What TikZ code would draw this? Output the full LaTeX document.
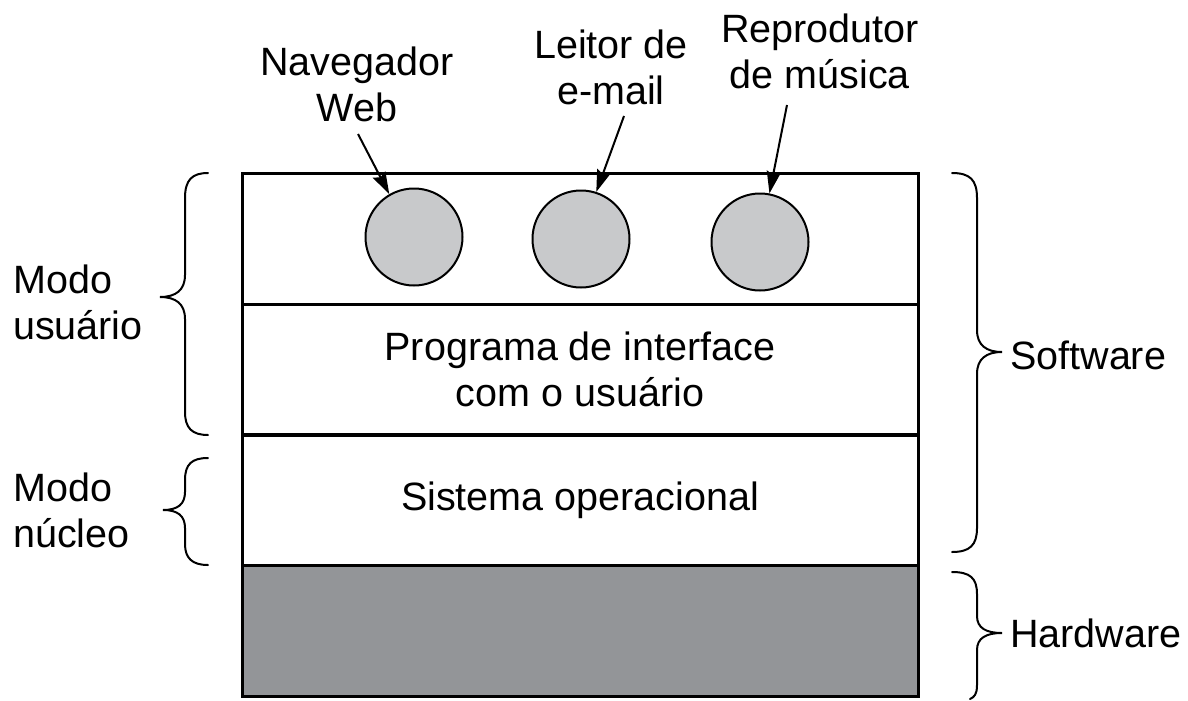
\documentclass[tikz,border=0pt]{standalone}
\usepackage{fontspec}
\setmainfont{Liberation Sans}
\usetikzlibrary{arrows.meta}
\definecolor{appgray}{HTML}{C8C9CB}
\definecolor{hwgray}{HTML}{939598}
\begin{document}
\begin{tikzpicture}[x=1pt,y=-1pt,
  lbl/.style={inner sep=0pt,align=center,font=\fontsize{39.5}{46}\selectfont},
  lbll/.style={inner sep=0pt,align=left,font=\fontsize{39.5}{46}\selectfont},
  layer/.style={draw,line width=3pt,minimum width=676pt,minimum height=131pt,inner sep=0pt,outer sep=0pt,align=center,font=\fontsize{39.5}{46}\selectfont},
  app/.style={circle,draw,line width=2pt,fill=appgray,minimum size=97pt,inner sep=0pt},
  ptr/.style={line width=2pt,-{Stealth[length=22pt,width=14pt,inset=3pt]}},
  brace/.style={line width=2pt,line cap=round}
]
\useasboundingbox (0,0) rectangle (1188,701);
% layers
\node[layer] (top) at (580,238.5) {};
\node[layer] (ui) at (580,369.5) {Programa de interface\\com o usuário};
\node[layer] (os) at (580,500) {Sistema operacional};
\node[layer,fill=hwgray] (hw) at (580,631) {};
% applications
\node[app] (c1) at (414,237) {};
\node[app] (c2) at (581,239) {};
\node[app] (c3) at (760,242) {};
% labels
\node[lbl] (l1) at (357,84) {Navegador\\Web};
\node[lbl] (l2) at (611,67) {Leitor de\\e-mail};
\node[lbl] (l3) at (820,51) {Reprodutor\\de música};
\coordinate (s1) at (358,134);
\coordinate (s2) at (624,116);
\coordinate (s3) at (787,105);
\draw[ptr] (s1) -- (c1.120);
\draw[ptr] (s2) -- (c2.72);
\draw[ptr] (s3) -- (c3.79);
% side labels
\node[lbll,anchor=west] (mu) at (13,302) {Modo\\usuário};
\node[lbll,anchor=west] (mn) at (13,510) {Modo\\núcleo};
\node[lbll,anchor=west] (sw) at (1010,355) {Software};
\node[lbll,anchor=west] (hwl) at (1010,633) {Hardware};
% left braces
\draw[brace] (208,173) .. controls (192,173) and (185,180) .. (185,198)
  -- (185,275) .. controls (185,290) and (176,297) .. (160,297)
  .. controls (176,297) and (185,304) .. (185,319)
  -- (185,412) .. controls (185,428) and (192,435) .. (208,435);
\draw[brace] (208,458) .. controls (192,458) and (185,464) .. (185,480)
  -- (185,492) .. controls (185,504) and (178,510) .. (163,510)
  .. controls (178,510) and (185,516) .. (185,528)
  -- (185,544) .. controls (185,558) and (192,565) .. (208,565);
% right braces
\draw[brace] (952,173) .. controls (970,173) and (977,180) .. (977,198)
  -- (977,330) .. controls (977,345) and (986,352) .. (1002,352)
  .. controls (986,352) and (977,359) .. (977,374)
  -- (977,528) .. controls (977,545) and (970,552) .. (952,552);
\draw[brace] (952,572) .. controls (970,572) and (977,578) .. (977,594)
  -- (977,616) .. controls (977,628) and (986,633) .. (1002,633)
  .. controls (986,633) and (977,638) .. (977,650)
  -- (977,685) .. controls (977,695) and (974,697) .. (970,699);
\end{tikzpicture}
\end{document}
